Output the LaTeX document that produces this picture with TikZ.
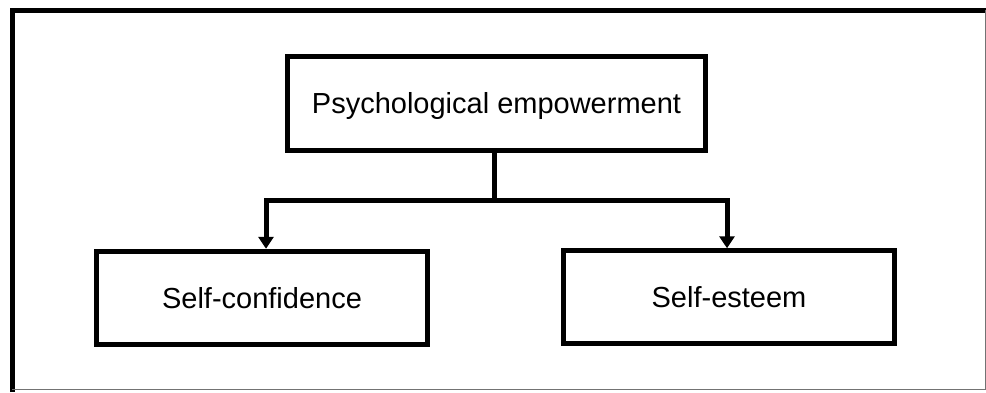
\documentclass[tikz,border=0pt]{standalone}
\usepackage{fontspec}
\setmainfont{Liberation Sans}
\usetikzlibrary{arrows.meta}
\begin{document}
\begin{tikzpicture}[x=1pt,y=-1pt,
  box/.style={draw, line width=5pt, inner sep=0pt, text height=20.8pt, text depth=0pt,
    font=\fontsize{29}{34}\selectfont},
  link/.style={line width=5pt},
  arrowlink/.style={line width=5pt, -{Triangle[width=15pt,length=12pt]}}]
  \useasboundingbox (0,0) rectangle (986,392);
  % outer frame
  \draw[line width=5pt] (12.5,392) -- (12.5,10) -- (986,10);
  \draw[line width=1pt, black!55] (985.5,10) -- (985.5,389.5) -- (12,389.5);
  % boxes
  \node[box, minimum width=418.5pt, minimum height=93.5pt] (top) at (496.5,103.5) {Psychological empowerment};
  \node[box, minimum width=331pt, minimum height=93.5pt] (conf) at (262,298) {Self-confidence};
  \node[box, minimum width=330.5pt, minimum height=92.5pt] (este) at (729,297) {Self-esteem};
  % connectors
  \coordinate (fork) at (494.5,200);
  \draw[link] (top.south -| fork) -- (fork);
  \draw[arrowlink] (fork) -| ([xshift=4pt]conf.north);
  \draw[arrowlink] (fork) -| ([xshift=-2pt]este.north);
\end{tikzpicture}
\end{document}
